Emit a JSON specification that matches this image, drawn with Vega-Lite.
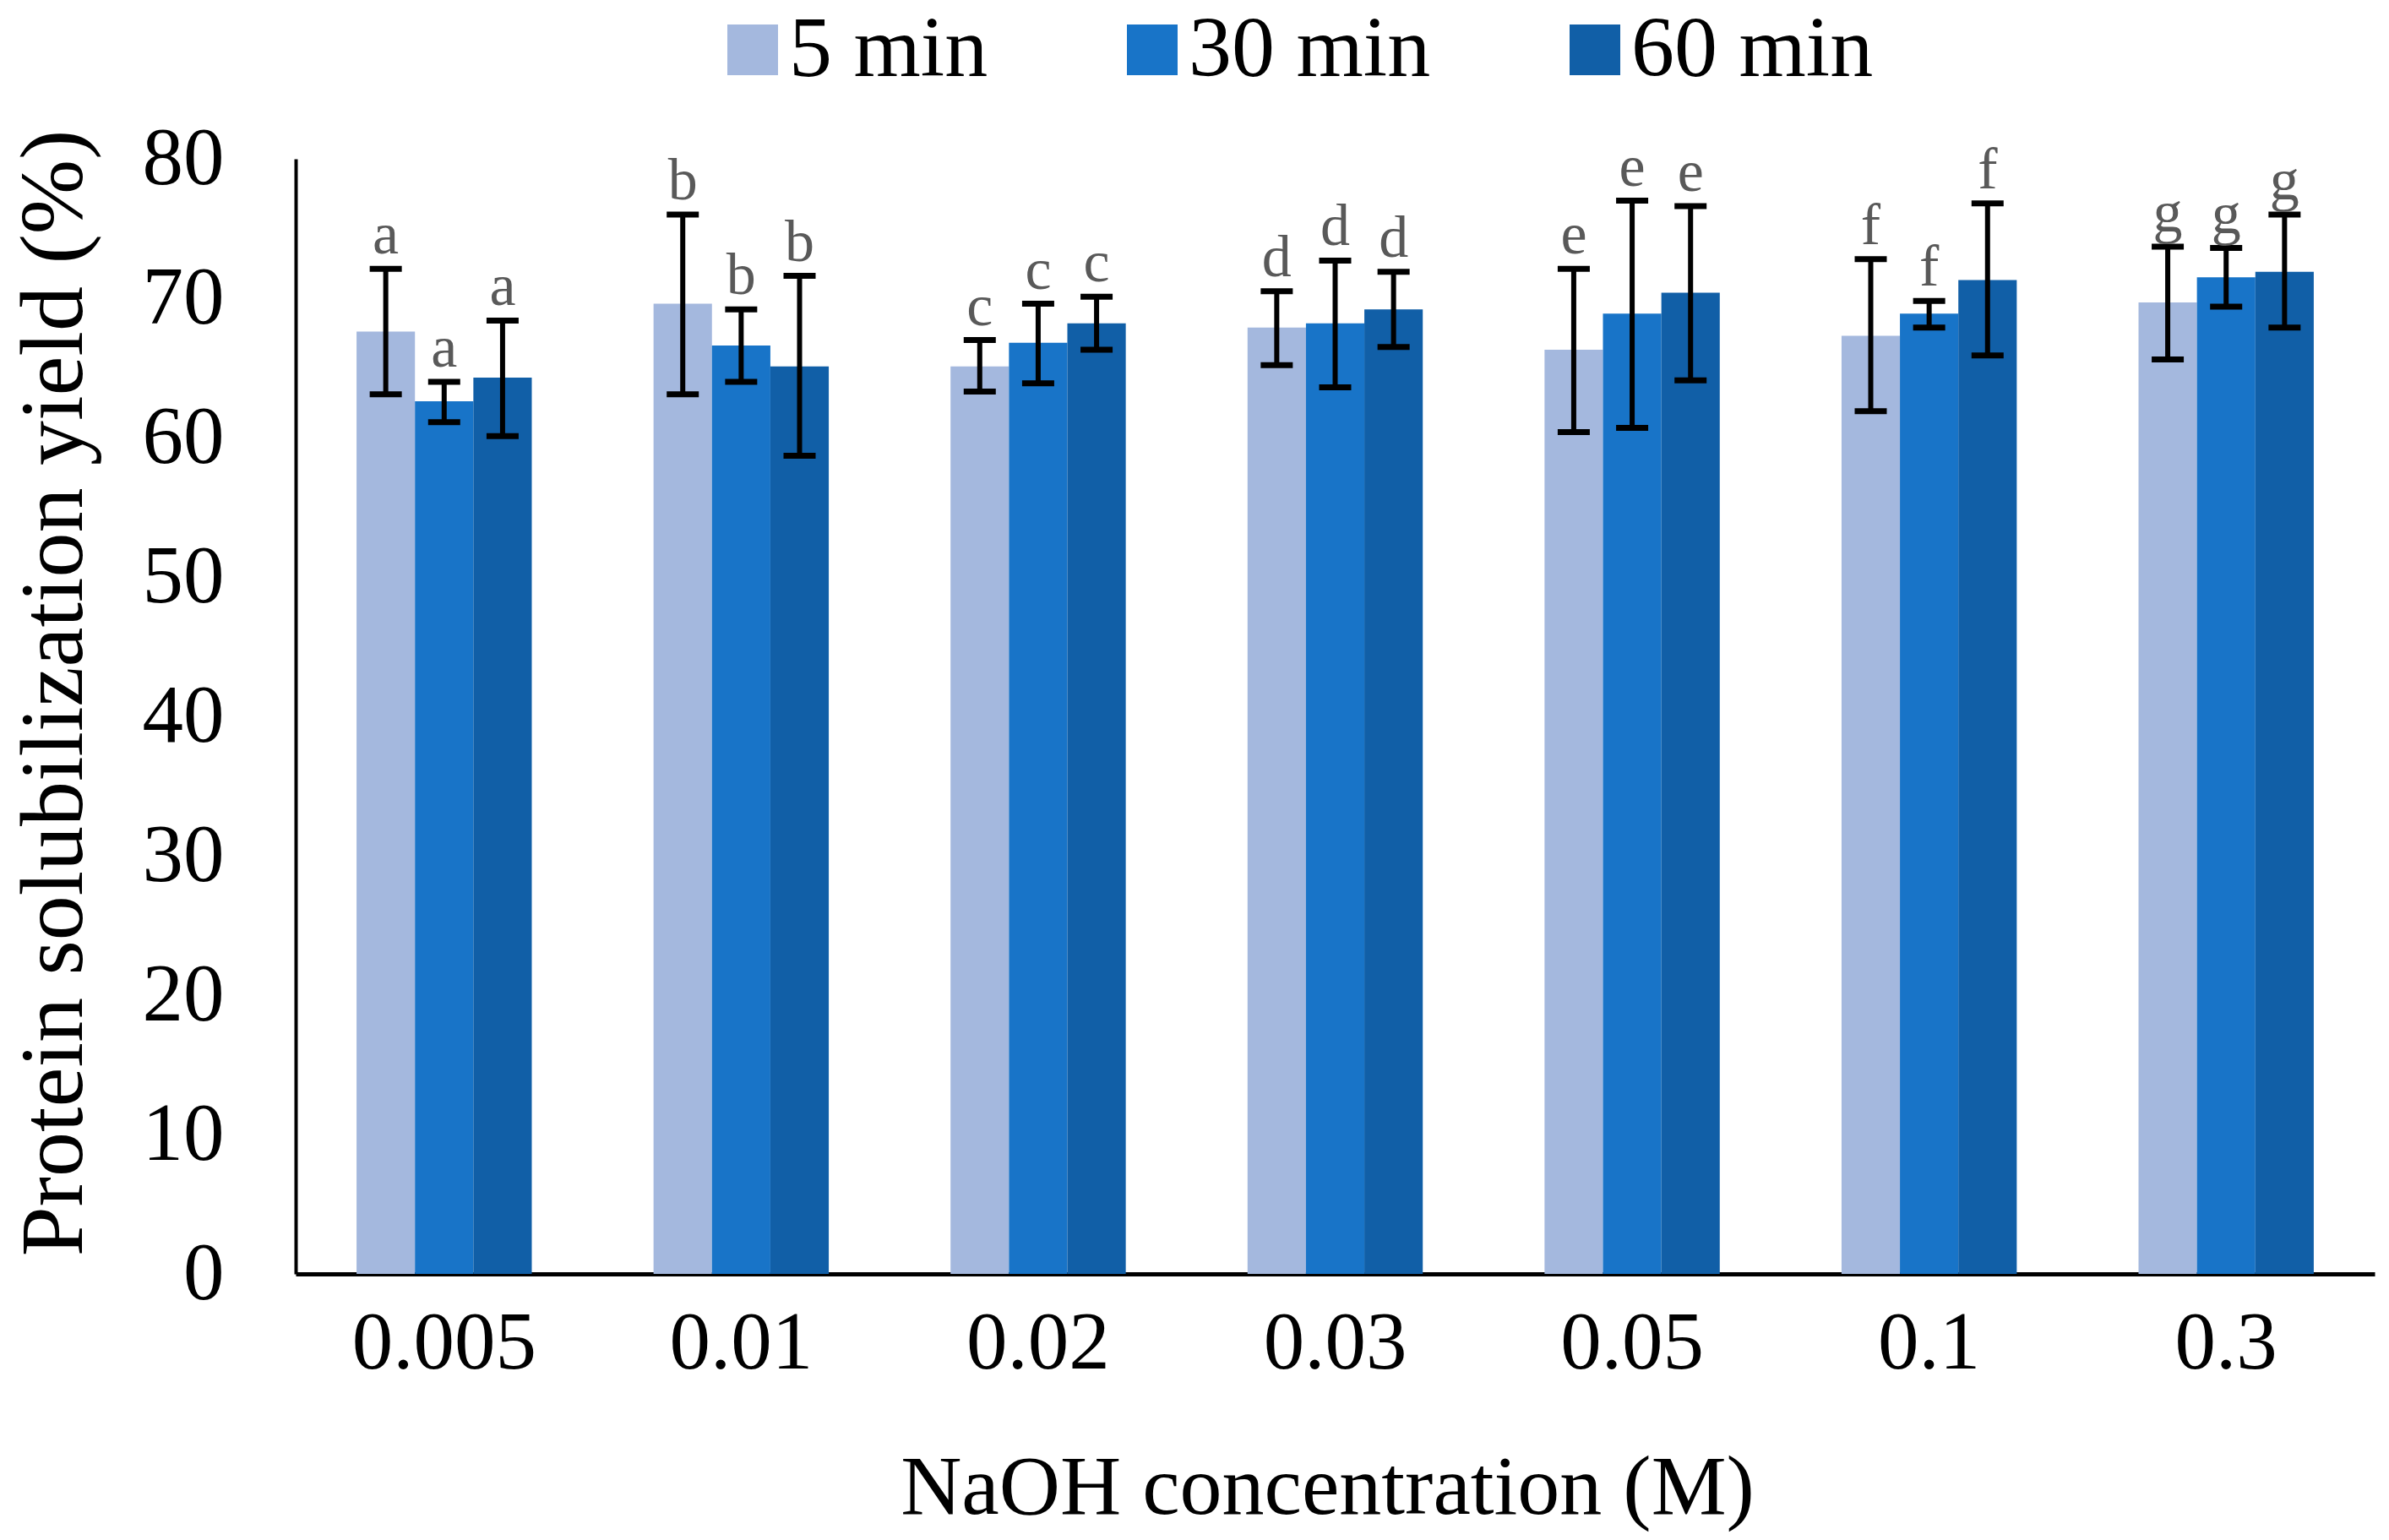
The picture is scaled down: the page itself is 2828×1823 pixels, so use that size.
{
  "$schema": "https://vega.github.io/schema/vega-lite/v6.json",
  "description": "Protein solubilization yield by NaOH concentration and extraction time, with error bars and significance letters.",
  "width": 2461,
  "height": 1320,
  "autosize": {"type": "none"},
  "padding": {"left": 350, "top": 188, "right": 17, "bottom": 315},
  "background": "white",
  "data": {
    "values": [
      {"conc": "0.005", "time": "5 min", "yield": 67.6, "lo": 63.1, "hi": 72.1, "letter": "a"},
      {"conc": "0.005", "time": "30 min", "yield": 62.6, "lo": 61.1, "hi": 64.0, "letter": "a"},
      {"conc": "0.005", "time": "60 min", "yield": 64.3, "lo": 60.1, "hi": 68.4, "letter": "a"},
      {"conc": "0.01", "time": "5 min", "yield": 69.6, "lo": 63.1, "hi": 76.0, "letter": "b"},
      {"conc": "0.01", "time": "30 min", "yield": 66.6, "lo": 64.0, "hi": 69.2, "letter": "b"},
      {"conc": "0.01", "time": "60 min", "yield": 65.1, "lo": 58.7, "hi": 71.6, "letter": "b"},
      {"conc": "0.02", "time": "5 min", "yield": 65.1, "lo": 63.3, "hi": 67.0, "letter": "c"},
      {"conc": "0.02", "time": "30 min", "yield": 66.8, "lo": 63.9, "hi": 69.6, "letter": "c"},
      {"conc": "0.02", "time": "60 min", "yield": 68.2, "lo": 66.3, "hi": 70.1, "letter": "c"},
      {"conc": "0.03", "time": "5 min", "yield": 67.9, "lo": 65.2, "hi": 70.5, "letter": "d"},
      {"conc": "0.03", "time": "30 min", "yield": 68.2, "lo": 63.6, "hi": 72.7, "letter": "d"},
      {"conc": "0.03", "time": "60 min", "yield": 69.2, "lo": 66.5, "hi": 71.9, "letter": "d"},
      {"conc": "0.05", "time": "5 min", "yield": 66.3, "lo": 60.4, "hi": 72.1, "letter": "e"},
      {"conc": "0.05", "time": "30 min", "yield": 68.9, "lo": 60.7, "hi": 77.0, "letter": "e"},
      {"conc": "0.05", "time": "60 min", "yield": 70.4, "lo": 64.1, "hi": 76.6, "letter": "e"},
      {"conc": "0.1", "time": "5 min", "yield": 67.3, "lo": 61.9, "hi": 72.8, "letter": "f"},
      {"conc": "0.1", "time": "30 min", "yield": 68.9, "lo": 67.9, "hi": 69.8, "letter": "f"},
      {"conc": "0.1", "time": "60 min", "yield": 71.3, "lo": 65.9, "hi": 76.8, "letter": "f"},
      {"conc": "0.3", "time": "5 min", "yield": 69.7, "lo": 65.6, "hi": 73.7, "letter": "g"},
      {"conc": "0.3", "time": "30 min", "yield": 71.5, "lo": 69.4, "hi": 73.6, "letter": "g"},
      {"conc": "0.3", "time": "60 min", "yield": 71.9, "lo": 67.9, "hi": 76.0, "letter": "g"}
    ]
  },
  "encoding": {
    "x": {
      "field": "conc",
      "type": "nominal",
      "sort": ["0.005", "0.01", "0.02", "0.03", "0.05", "0.1", "0.3"],
      "scale": {"paddingInner": 0.41, "paddingOuter": 0.205},
      "axis": {
        "title": "NaOH concentration (M)",
        "labelAngle": 0,
        "labelFontSize": 97,
        "labelPadding": 34,
        "labelLimit": 0,
        "ticks": false,
        "domainColor": "black",
        "domainWidth": 5,
        "titleFontSize": 100,
        "titleFontWeight": "normal",
        "titleX": 1221,
        "titleY": 283,
        "titleBaseline": "alphabetic"
      }
    },
    "xOffset": {
      "field": "time",
      "type": "nominal",
      "sort": ["5 min", "30 min", "60 min"],
      "scale": {"paddingInner": 0, "paddingOuter": 0}
    }
  },
  "layer": [
    {
      "mark": {"type": "bar"},
      "encoding": {
        "y": {
          "field": "yield",
          "type": "quantitative",
          "scale": {"domain": [0, 80], "nice": false},
          "axis": {
            "title": "Protein solubilization yield (%)",
            "values": [0, 10, 20, 30, 40, 50, 60, 70, 80],
            "grid": false,
            "ticks": false,
            "labelFontSize": 97,
            "labelPadding": 85,
            "domainColor": "black",
            "domainWidth": 4,
            "titleFontSize": 106,
            "titleFontWeight": "normal",
            "titleAngle": -90,
            "titleX": -254,
            "titleY": 632,
            "titleAlign": "center",
            "titleBaseline": "alphabetic",
            "titleLimit": 0
          }
        },
        "color": {
          "field": "time",
          "type": "nominal",
          "sort": ["5 min", "30 min", "60 min"],
          "scale": {
            "domain": ["5 min", "30 min", "60 min"],
            "range": ["#A4B8DE", "#1874C8", "#115FA7"]
          },
          "legend": {
            "title": null,
            "orient": "none",
            "direction": "horizontal",
            "legendX": 490,
            "legendY": -180,
            "symbolType": "square",
            "symbolSize": 3600,
            "symbolStrokeWidth": 0,
            "labelFontSize": 102,
            "labelOffset": -8,
            "labelLimit": 0,
            "labelColor": "black",
            "columnPadding": 143
          }
        }
      }
    },
    {
      "mark": {"type": "rule", "color": "black", "strokeWidth": 6},
      "encoding": {
        "y": {"field": "lo", "type": "quantitative"},
        "y2": {"field": "hi"}
      }
    },
    {
      "mark": {"type": "tick", "color": "black", "thickness": 7, "size": 38, "opacity": 1},
      "encoding": {
        "y": {"field": "lo", "type": "quantitative"}
      }
    },
    {
      "mark": {"type": "tick", "color": "black", "thickness": 7, "size": 38, "opacity": 1},
      "encoding": {
        "y": {"field": "hi", "type": "quantitative"}
      }
    },
    {
      "mark": {
        "type": "text",
        "dy": -18,
        "baseline": "alphabetic",
        "align": "center",
        "fontSize": 70,
        "color": "#595959"
      },
      "encoding": {
        "y": {"field": "hi", "type": "quantitative"},
        "text": {"field": "letter"}
      }
    }
  ],
  "config": {
    "font": "Liberation Serif",
    "view": {"stroke": null},
    "axis": {"labelColor": "black", "titleColor": "black", "labelFont": "Liberation Serif", "titleFont": "Liberation Serif"},
    "legend": {"labelFont": "Liberation Serif"},
    "text": {"font": "Liberation Serif"}
  }
}
